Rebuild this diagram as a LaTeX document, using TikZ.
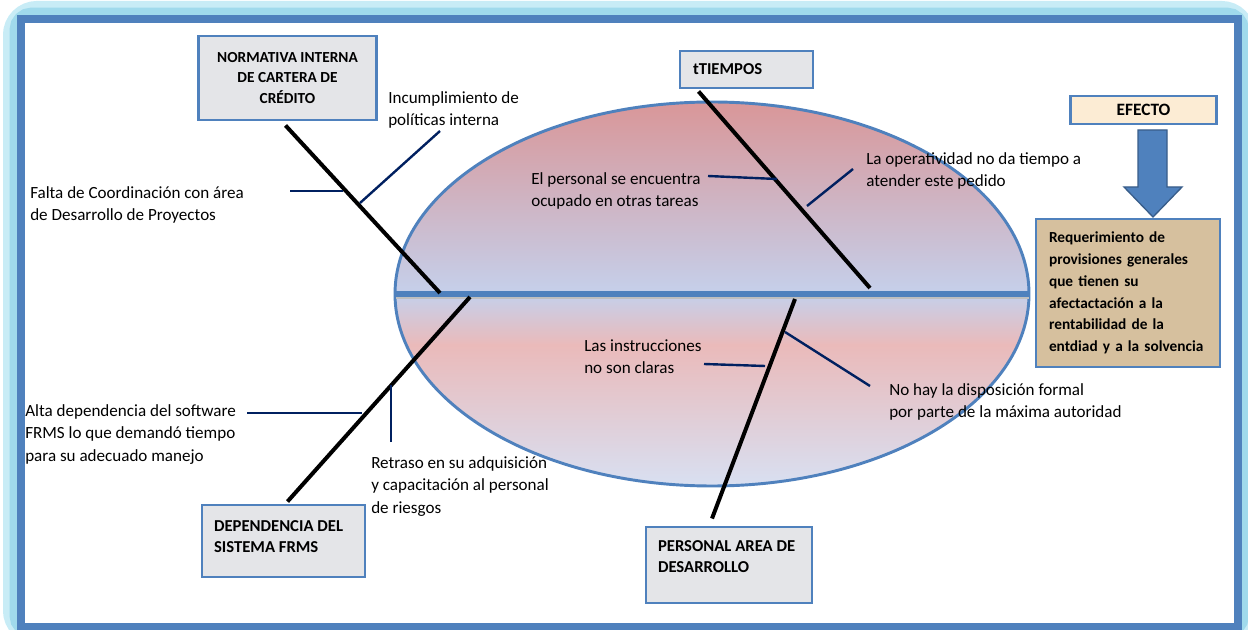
\documentclass[tikz,border=0pt]{standalone}
\usepackage{fontspec}
\setmainfont{Carlito}
\usepackage{tikz}
\usetikzlibrary{positioning}

\definecolor{boxblue}{RGB}{79,129,189}
\definecolor{arrline}{RGB}{56,93,138}
\definecolor{navy}{RGB}{0,32,96}
\definecolor{glowA}{RGB}{200,236,246}
\definecolor{glowB}{RGB}{160,218,236}
\definecolor{pkTop}{RGB}{217,150,152}
\definecolor{blMid}{RGB}{197,208,235}
\definecolor{pkMid}{RGB}{234,186,186}
\definecolor{blLow}{RGB}{216,224,242}
\definecolor{marble}{RGB}{228,229,232}
\definecolor{cream}{RGB}{252,236,212}
\definecolor{tan}{RGB}{214,192,158}

\begin{document}
\begin{tikzpicture}[x=0.75pt, y=-0.75pt,
    cause/.style={draw=boxblue, line width=2.2pt, fill=marble, inner ysep=4pt,
                  font=\fontsize{12.5}{15.8}\selectfont\bfseries},
    lbl/.style={anchor=north west, inner sep=0pt, align=left,
                font=\fontsize{12.8}{16.9}\selectfont},
    bone/.style={line width=3pt, black},
    twig/.style={line width=1.8pt, navy}
  ]
    \useasboundingbox (0,0) rectangle (1248,630);

    %% ── marco ──
    \draw[glowA, line width=27pt, rounded corners=12pt] (21,19) rectangle (1237.5,626.5);
    \draw[glowB, line width=17pt, rounded corners=8pt] (21,19) rectangle (1237.5,626.5);
    \draw[boxblue, line width=6pt, fill=white] (21,19) rectangle (1237.5,626.5);

    %% ── elipse ──
    \begin{scope}
      \clip (712,294) ellipse [x radius=317, y radius=192];
      \shade[top color=pkTop, bottom color=blMid] (394,101) rectangle (1030,294);
      \shade[top color=blMid, bottom color=pkMid] (394,294) rectangle (1030,345);
      \shade[top color=pkMid, bottom color=blLow] (394,345) rectangle (1030,487);
    \end{scope}
    \draw[boxblue, line width=2.2pt] (712,294) ellipse [x radius=317, y radius=192];
    \coordinate (sp0) at (396,294);
    \coordinate (sp1) at (1029,294);
    \draw[black!25, line width=2pt] (396,298) -- (1029,298);
    \draw[boxblue, line width=4pt] (sp0) -- (sp1);

    %% ── causas ──
    \node[cause, align=center, minimum width=134pt, minimum height=63pt,
          font=\fontsize{11.5}{15.2}\selectfont\bfseries]
         (norm) at (287.5,78) {NORMATIVA INTERNA\\DE CARTERA DE\\CRÉDITO};
    \node[cause, align=left, inner xsep=9.75pt, text width=80.25pt, minimum height=27.75pt]
         (tiem) at (746.5,69.5) {tTIEMPOS};
    \node[cause, inner xsep=9pt, inner ysep=12pt]
         (dep) at (283.5,541) {\parbox[c][30pt][t]{104.25pt}{DEPENDENCIA DEL\\SISTEMA FRMS}};
    \node[cause, inner xsep=9pt, inner ysep=10.5pt]
         (pers) at (729,565) {\parbox[c][36pt][t]{106.5pt}{PERSONAL AREA DE\\DESARROLLO}};

    %% ── efecto ──
    \node[draw=boxblue, line width=2.2pt, fill=cream, minimum width=110pt, minimum height=21pt,
          font=\fontsize{13}{15}\selectfont\bfseries]
         (efec) at (1143.5,110) {EFECTO};
    \draw[arrline, line width=1pt, fill=boxblue]
         (1138,130) -- (1167,130) -- (1167,187) -- (1182,187) -- (1153,217)
         -- (1124,187) -- (1138,187) -- cycle;
    \node[draw=boxblue, line width=2.2pt, fill=tan, align=left, inner xsep=9.75pt,
          text width=118.5pt, minimum height=111pt,
          font=\fontsize{11.5}{16.3}\selectfont\bfseries]
         (resu) at (1128,293) {Requerimiento de\\provisiones generales\\que tienen su\\afectactación a la\\rentabilidad de la\\entdiad y a la solvencia};

    %% ── espinas ──
    \coordinate (n1) at (440,293);
    \coordinate (t1) at (870,288);
    \coordinate (d1) at (470,297);
    \coordinate (p1) at (795,299);
    \draw[bone] (norm.south) ++(-2,4) -- (n1);
    \draw[bone] (tiem.south west) ++(20,2) -- (t1);
    \draw[bone] (dep.north) ++(4,-2) -- (d1);
    \draw[bone] (pers.north) ++(-17,-7) -- (p1);

    %% ── subcausas ──
    \coordinate (fa0) at (290,191);  \coordinate (fa1) at (343,191);
    \coordinate (in0) at (440,131);  \coordinate (in1) at (360,203);
    \coordinate (pe0) at (708,176);  \coordinate (pe1) at (777,179);
    \coordinate (op0) at (853,169);  \coordinate (op1) at (807,206);
    \coordinate (al0) at (247,413);  \coordinate (al1) at (362,413);
    \coordinate (re0) at (391,442);  \coordinate (re1) at (391,385);
    \coordinate (is0) at (704,364);  \coordinate (is1) at (765,366);
    \coordinate (nh0) at (870,386);  \coordinate (nh1) at (785,332);
    \draw[twig] (fa0) -- (fa1);
    \draw[twig] (in0) -- (in1);
    \draw[twig] (pe0) -- (pe1);
    \draw[twig] (op0) -- (op1);
    \draw[twig] (al0) -- (al1);
    \draw[twig] (re0) -- (re1);
    \draw[twig] (is0) -- (is1);
    \draw[twig] (nh0) -- (nh1);

    %% ── textos ──
    \node[lbl] (falta) at (30,186)  {Falta de Coordinación con área\\de Desarrollo de Proyectos};
    \node[lbl] (incu)  at (388,91)  {Incumplimiento de\\políticas interna};
    \node[lbl] (ocup)  at (531,172) {El personal se encuentra\\ocupado en otras tareas};
    \node[lbl] (oper)  at (866,152) {La operatividad no da tiempo a\\atender este pedido};
    \node[lbl] (instr) at (584,339) {Las instrucciones\\no son claras};
    \node[lbl] (nohay) at (889,383) {No hay la disposición formal\\por parte de la máxima autoridad};
    \node[lbl] (alta)  at (25,404)  {Alta dependencia del software\\FRMS lo que demandó tiempo\\para su adecuado manejo};
    \node[lbl] (retr)  at (371,456) {Retraso en su adquisición\\y capacitación al personal\\de riesgos};
  \end{tikzpicture}
\end{document}
